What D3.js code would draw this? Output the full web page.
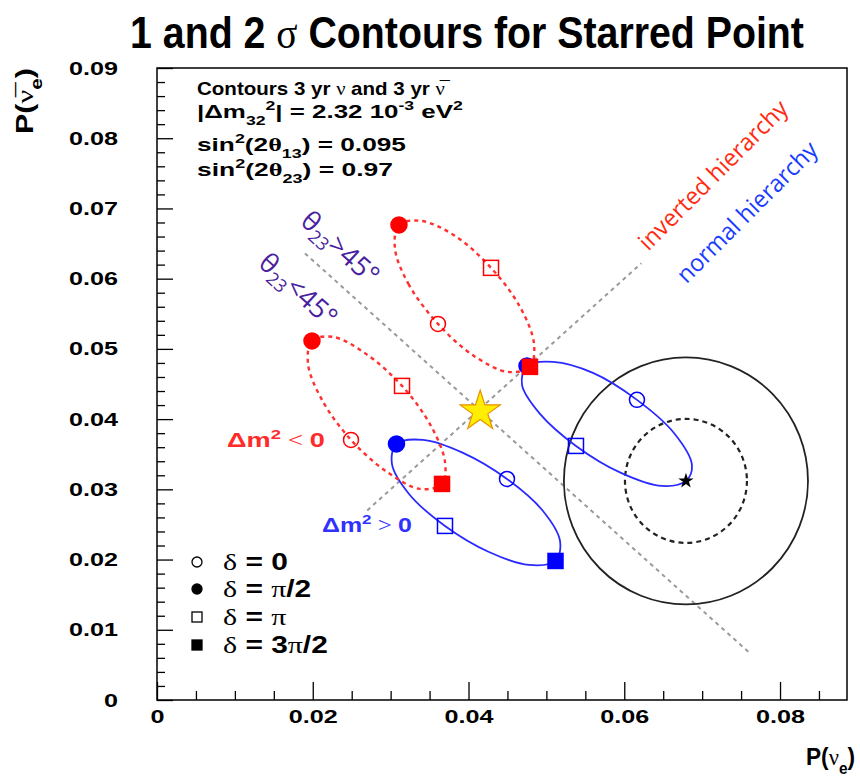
<!DOCTYPE html>
<html><head><meta charset="utf-8">
<script src="https://cdn.jsdelivr.net/npm/d3@7"></script>
<style>body{margin:0;background:#fff}svg{display:block}</style>
</head><body>
<svg id="c" width="860" height="777"></svg>
<script>
// ---------------- data ----------------
const xDomain = [0, 0.0886];
const yDomain = [0, 0.09];
const xTicks = [0, 0.02, 0.04, 0.06, 0.08];
const xTickLabels = ["0", "0.02", "0.04", "0.06", "0.08"];
const yTicks = [0, 0.01, 0.02, 0.03, 0.04, 0.05, 0.06, 0.07, 0.08, 0.09];
const yTickLabels = ["0", "0.01", "0.02", "0.03", "0.04", "0.05", "0.06", "0.07", "0.08", "0.09"];
const xMinorTicks = [0.005, 0.01, 0.015, 0.025, 0.03, 0.035, 0.045, 0.05, 0.055, 0.065, 0.07, 0.075, 0.085];
const yMinorTicks = [0.002, 0.004, 0.006, 0.008, 0.012, 0.014, 0.016, 0.018, 0.022, 0.024, 0.026, 0.028,
  0.032, 0.034, 0.036, 0.038, 0.042, 0.044, 0.046, 0.048, 0.052, 0.054, 0.056, 0.058,
  0.062, 0.064, 0.066, 0.068, 0.072, 0.074, 0.076, 0.078, 0.082, 0.084, 0.086, 0.088];

// contour points, delta = 0, 30, 60 ... 330 degrees
const deltaDeg = [0, 30, 60, 90, 120, 150, 180, 210, 240, 270, 300, 330];
// normal hierarchy (blue, solid)
const nhLowerX = [0.04494, 0.03929, 0.03415, 0.03075, 0.03017, 0.03236, 0.03698, 0.04263, 0.04777, 0.05117, 0.05175, 0.04956];
const nhLowerY = [0.03148, 0.03519, 0.03704, 0.03647, 0.03362, 0.02934, 0.02479, 0.02108, 0.01923, 0.01980, 0.02265, 0.02692];
const nhUpperX = [0.06163, 0.05598, 0.05085, 0.04751, 0.04687, 0.04918, 0.05380, 0.05958, 0.06484, 0.06792, 0.06869, 0.06638];
const nhUpperY = [0.04274, 0.04658, 0.04815, 0.04758, 0.04487, 0.04074, 0.03618, 0.03234, 0.03048, 0.03120, 0.03348, 0.03803];
// inverted hierarchy (red, dashed)
const ihUpperX = [0.03608, 0.03236, 0.03056, 0.03107, 0.03390, 0.03826, 0.04289, 0.04661, 0.04841, 0.04789, 0.04507, 0.04070];
const ihUpperY = [0.05356, 0.05912, 0.06425, 0.06766, 0.06823, 0.06610, 0.06154, 0.05598, 0.05071, 0.04744, 0.04672, 0.04900];
const ihLowerX = [0.02491, 0.02119, 0.01939, 0.01990, 0.02260, 0.02684, 0.03146, 0.03518, 0.03698, 0.03660, 0.03377, 0.02953];
const ihLowerY = [0.03704, 0.04274, 0.04786, 0.05114, 0.05171, 0.04929, 0.04473, 0.03903, 0.03390, 0.03077, 0.03006, 0.03248];

// marker types at delta = 0, pi/2, pi, 3pi/2
const markerDelta = [0, 90, 180, 270];
const markerTypes = ["openCircle", "filledCircle", "openSquare", "filledSquare"];

// starred point and its 1 and 2 sigma contour half-widths
const starPoint = [0.06792, 0.03120];
const sigma1 = [0.00783, 0.00883];
const sigma2 = [0.01567, 0.01759];
const yellowStar = [0.04150, 0.04110];

// dotted guide lines
const octantLineX = [0.0190, 0.0762];
const octantLineY = [0.0636, 0.0066];
const diagLineX = [0.0270, 0.0622];
const diagLineY = [0.0270, 0.0622];

const legendLabels = [["δ", " = 0"], ["δ", " = ", "π", "/2"], ["δ", " = ", "π"], ["δ", " = 3", "π", "/2"]];

// ---------------- drawing ----------------
const SANS = "'Liberation Sans', Arial, sans-serif";
const SERIF = "'Liberation Serif', 'DejaVu Serif', serif";
const OVER = "'Open Sans', 'Noto Sans', sans-serif";
const svg = d3.select("#c");
svg.append("rect").attr("width", 860).attr("height", 777).attr("fill", "#fff");

const x = d3.scaleLinear().domain(xDomain).range([157, 847]);
const y = d3.scaleLinear().domain(yDomain).range([700, 68]);

function addParts(t, parts, size) {
  let cur = 0;
  parts.forEach(p => {
    const o = typeof p === "string" ? { t: p } : p;
    const target = o.sub ? size * 0.38 : o.sup ? -size * 0.42 : 0;
    const ts = t.append("tspan").text(o.t).attr("dy", target - cur);
    cur = target;
    if (o.sub || o.sup) ts.attr("font-size", size * 0.68);
    if (o.g) ts.attr("font-family", SERIF).attr("font-weight", o.b ? "bold" : "normal");
  });
  return t;
}
function fitText(xp, yp, parts, size, opts) {
  const g = svg.append("g");
  const t = g.append("text").attr("font-family", SANS).attr("font-weight", "bold")
    .attr("font-size", size).attr("fill", opts.fill || "#000")
    .attr("text-anchor", opts.anchor || "start");
  addParts(t, parts, size);
  let sx = opts.sx;
  if (opts.width) sx = opts.width / t.node().getComputedTextLength();
  g.attr("transform", `translate(${xp},${yp}) rotate(${opts.rot || 0}) scale(${sx},1)`);
  return sx;
}

// frame
svg.append("rect").attr("x", x(xDomain[0])).attr("y", y(yDomain[1]))
  .attr("width", x(xDomain[1]) - x(xDomain[0])).attr("height", y(yDomain[0]) - y(yDomain[1]))
  .attr("fill", "none").attr("stroke", "#000").attr("stroke-width", 1.5);

// axes
function styleAxis(g) {
  g.select(".domain").remove();
  g.selectAll(".tick line").attr("stroke", "#000").attr("stroke-width", 1.3);
  g.selectAll("text").attr("font-family", SANS).attr("font-weight", "bold").attr("font-size", 19).attr("fill", "#000");
}
const gxMinor = svg.append("g").attr("transform", `translate(0,${y(0)})`)
  .call(d3.axisBottom(x).tickValues(xMinorTicks).tickSizeInner(-9).tickSizeOuter(0).tickFormat(""));
styleAxis(gxMinor);
const gx = svg.append("g").attr("transform", `translate(0,${y(0)})`)
  .call(d3.axisBottom(x).tickValues(xTicks).tickSizeInner(-18).tickSizeOuter(0).tickPadding(10)
    .tickFormat((d, i) => xTickLabels[i]));
styleAxis(gx);
const gyMinor = svg.append("g").attr("transform", `translate(${x(0)},0)`)
  .call(d3.axisLeft(y).tickValues(yMinorTicks).tickSizeInner(-8).tickSizeOuter(0).tickFormat(""));
styleAxis(gyMinor);
const gy = svg.append("g").attr("transform", `translate(${x(0)},0)`)
  .call(d3.axisLeft(y).tickValues(yTicks).tickSizeInner(-16).tickSizeOuter(0).tickPadding(26)
    .tickFormat((d, i) => yTickLabels[i]));
styleAxis(gy);
const refLab = gy.selectAll("text").filter((d, i) => i === yTicks.length - 1);
const tickSx = 49 / refLab.node().getComputedTextLength();
gy.selectAll("text").attr("x", -39 / tickSx).attr("transform", `scale(${tickSx},1)`);
gx.selectAll("text").attr("transform", `scale(${tickSx},1)`);

// dotted guide lines
const line = d3.line().x(d => x(d[0])).y(d => y(d[1]));
[[octantLineX, octantLineY], [diagLineX, diagLineY]].forEach(([lx, ly]) => {
  svg.append("path").attr("d", line(lx.map((v, i) => [v, ly[i]])))
    .attr("fill", "none").attr("stroke", "#9a9a9a").attr("stroke-width", 2).attr("stroke-dasharray", "4,4");
});

// 1 and 2 sigma contours around the starred point
[[sigma1, "5,4", 2.2], [sigma2, null, 1.8]].forEach(([s, dash, w]) => {
  const e = svg.append("ellipse").attr("cx", x(starPoint[0])).attr("cy", y(starPoint[1]))
    .attr("rx", x(starPoint[0] + s[0]) - x(starPoint[0]))
    .attr("ry", y(starPoint[1]) - y(starPoint[1] + s[1]))
    .attr("fill", "none").attr("stroke", "#222").attr("stroke-width", w);
  if (dash) e.attr("stroke-dasharray", dash);
});

const closed = d3.line().x(d => x(d[0])).y(d => y(d[1])).curve(d3.curveCatmullRomClosed.alpha(0.5));
function contour(xs, ys, color, dash, width) {
  const pts = xs.map((v, i) => [v, ys[i]]);
  const p = svg.append("path").attr("d", closed(pts)).attr("fill", "none")
    .attr("stroke", color).attr("stroke-width", width);
  if (dash) p.attr("stroke-dasharray", dash);
}
function markers(xs, ys, color, skip) {
  markerDelta.forEach((dd, k) => {
    if (skip && skip.includes(dd)) return;
    const i = deltaDeg.indexOf(dd);
    const cx = x(xs[i]), cy = y(ys[i]);
    const type = markerTypes[k];
    if (type.endsWith("Circle")) {
      svg.append("circle").attr("cx", cx).attr("cy", cy).attr("r", type === "filledCircle" ? 8 : 7.5)
        .attr("fill", type === "filledCircle" ? color : "none").attr("stroke", color).attr("stroke-width", 1.5);
    } else {
      const s = 15;
      svg.append("rect").attr("x", cx - s / 2).attr("y", cy - s / 2).attr("width", s).attr("height", s)
        .attr("fill", type === "filledSquare" ? color : "none").attr("stroke", color).attr("stroke-width", 1.5);
    }
  });
}
const BLUE = "#2a2aff", RED = "#ff3030";
contour(nhLowerX, nhLowerY, BLUE, null, 1.8);
contour(nhUpperX, nhUpperY, BLUE, null, 1.8);
markers(nhLowerX, nhLowerY, "#0000ff");
markers(nhUpperX, nhUpperY, "#0000ff", [270]);
contour(ihUpperX, ihUpperY, RED, "4,4", 2.4);
contour(ihLowerX, ihLowerY, RED, "4,4", 2.4);
markers(ihUpperX, ihUpperY, "#ff0000");
markers(ihLowerX, ihLowerY, "#ff0000");

// stars
svg.append("path").attr("d", d3.symbol(d3.symbolStar, 74)())
  .attr("transform", `translate(${x(starPoint[0])},${y(starPoint[1])})`).attr("fill", "#000");
svg.append("path").attr("d", d3.symbol(d3.symbolStar, 500)())
  .attr("transform", `translate(${x(yellowStar[0])},${y(yellowStar[1])})`)
  .attr("fill", "#ffee00").attr("stroke", "#e89000").attr("stroke-width", 1.2);

// title
fitText(467, 48, ["1 and 2 ", { t: "σ", g: 1 }, " Contours for Starred Point"], 44, { anchor: "middle", width: 674 });

// info box text
fitText(197, 95, ["Contours 3 yr ", { t: "ν", g: 1 }, " and 3 yr ", { t: "ν\u0305", g: 1 }], 18, { width: 248 });
fitText(197, 118, ["|Δm", { t: "32", sub: 1 }, { t: "2", sup: 1 }, "| = 2.32 10", { t: "-3", sup: 1 }, " eV", { t: "2", sup: 1 }], 18, { width: 266 });
fitText(197, 151, ["sin", { t: "2", sup: 1 }, "(2", { t: "θ", g: 1, b: 1 }, { t: "13", sub: 1 }, ") = 0.095"], 18, { width: 209 });
fitText(197, 176, ["sin", { t: "2", sup: 1 }, "(2", { t: "θ", g: 1, b: 1 }, { t: "23", sub: 1 }, ") = 0.97"], 18, { width: 196 });

// axis titles
fitText(855, 765, ["P(", { t: "ν", g: 1 }, { t: "e", sub: 1 }, ")"], 23, { anchor: "end", width: 49 });
fitText(33, 68, ["P(", { t: "ν\u0305", g: 1 }, { t: "e", sub: 1 }, ")"], 23, { anchor: "end", width: 66, rot: -90 });

// delta m^2 labels
fitText(227, 447, ["Δm", { t: "2", sup: 1 }, { t: " <  ", g: 1 }, "0"], 20, { fill: "#ff2a2a", width: 98 });
fitText(322, 532, ["Δm", { t: "2", sup: 1 }, { t: " > ", g: 1 }, "0"], 20, { fill: "#3030ff", width: 90 });

// legend
const legendY = [562, 589, 617, 645];
legendLabels.forEach((lab, k) => {
  const cy = legendY[k], cx = 197, type = markerTypes[k];
  if (type.endsWith("Circle")) {
    svg.append("circle").attr("cx", cx).attr("cy", cy).attr("r", 5)
      .attr("fill", type === "filledCircle" ? "#000" : "none").attr("stroke", "#000").attr("stroke-width", 1.3);
  } else {
    svg.append("rect").attr("x", cx - 5).attr("y", cy - 5).attr("width", 10).attr("height", 10)
      .attr("fill", type === "filledSquare" ? "#000" : "none").attr("stroke", "#000").attr("stroke-width", 1.3);
  }
  const parts = lab.map(s => (s === "δ" || s === "π") ? { t: s, g: 1 } : s);
  fitText(223, cy + 8, parts, 23, { sx: 1.3 });
});

// overlay annotations
function overlay(txt, cx, cy, rot, size, color, len) {
  const t = svg.append("text").attr("font-family", OVER).attr("font-size", size).attr("fill", color)
    .attr("text-anchor", "middle").attr("dy", "0.35em")
    .attr("transform", `translate(${cx},${cy}) rotate(${rot})`).text(txt);
  if (len) t.attr("textLength", len).attr("lengthAdjust", "spacingAndGlyphs");
}
overlay("inverted hierarchy", 713, 175, -45, 24, "#ff2a10", 200);
overlay("normal hierarchy", 747, 212, -45, 24, "#1a3cff", 188);
function thetaLabel(cx, cy, rel) {
  const t = svg.append("text").attr("font-family", OVER).attr("font-size", 27).attr("fill", "#4a1f9e")
    .attr("text-anchor", "middle")
    .attr("transform", `translate(${cx},${cy}) rotate(42)`);
  t.append("tspan").text("θ").attr("dy", 9);
  t.append("tspan").text("23").attr("font-size", 18).attr("dy", 6);
  t.append("tspan").text(rel + "45°").attr("dy", -6);
}
thetaLabel(340, 248, ">");
thetaLabel(298, 290, "<");
</script>
</body></html>
